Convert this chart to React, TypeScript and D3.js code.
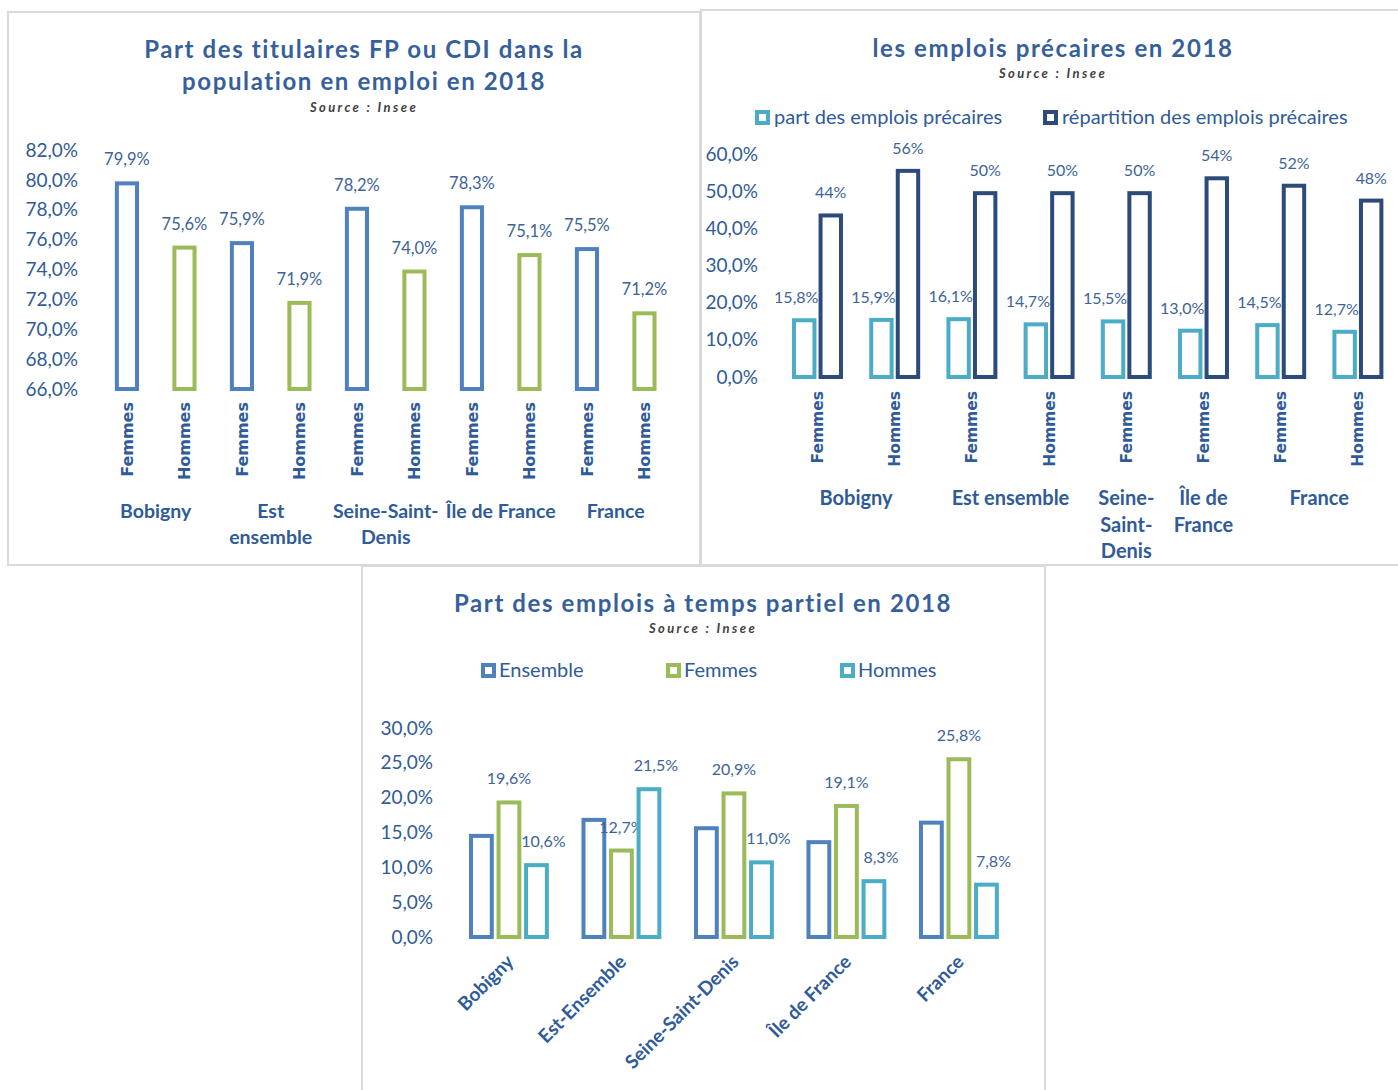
import React from 'react';
import * as d3 from 'd3';

// --- chart 1 : titulaires FP ou CDI
const places1 = ['Bobigny', 'Est ensemble', 'Seine-Saint-Denis', 'Île de France', 'France'];
const placeLines1 = [['Bobigny'], ['Est', 'ensemble'], ['Seine-Saint-', 'Denis'], ['Île de France'], ['France']];
const sexes = ['Femmes', 'Hommes'];
const titFemmes = [79.9, 75.9, 78.2, 78.3, 75.5];
const titHommes = [75.6, 71.9, 74.0, 75.1, 71.2];
const ticks1 = [66, 68, 70, 72, 74, 76, 78, 80, 82];

// --- chart 2 : emplois précaires
const catLabels2 = ['Femmes', 'Hommes', 'Femmes', 'Hommes', 'Femmes', 'Femmes', 'Femmes', 'Hommes'];
const partPrecaires = [15.8, 15.9, 16.1, 14.7, 15.5, 13.0, 14.5, 12.7];
const repartPrecaires = [44, 56, 50, 50, 50, 54, 52, 48];
const groups2 = [
  { lines: ['Bobigny'], from: 0, to: 1 },
  { lines: ['Est ensemble'], from: 2, to: 3 },
  { lines: ['Seine-', 'Saint-', 'Denis'], from: 4, to: 4 },
  { lines: ['Île de', 'France'], from: 5, to: 5 },
  { lines: ['France'], from: 6, to: 7 },
];
const series2 = ['part des emplois précaires', 'répartition des emplois précaires'];
const ticks2 = [0, 10, 20, 30, 40, 50, 60];

// --- chart 3 : temps partiel
const places3 = ['Bobigny', 'Est-Ensemble', 'Seine-Saint-Denis', 'Île de France', 'France'];
const series3 = ['Ensemble', 'Femmes', 'Hommes'];
const tpEnsemble = [14.8, 17.1, 15.9, 13.9, 16.7];
const tpFemmes = [19.6, 12.7, 20.9, 19.1, 25.8];
const tpHommes = [10.6, 21.5, 11.0, 8.3, 7.8];
const ticks3 = [0, 5, 10, 15, 20, 25, 30];

const BLUE = '#4f81bd';
const GREEN = '#9bbb59';
const CYAN = '#4bacc6';
const NAVY = '#2c4b7a';
const TXT = '#2f5b98';
const LBL = '#3d6397';
const TITLE = '#36609a';
const FONT = 'Lato, "Open Sans", sans-serif';

const fr = d3.formatLocale({ decimal: ',', thousands: ' ', grouping: [3], currency: ['', '€'] });
const pct1 = (v: number) => fr.format('.1f')(v) + '%';
const pct0 = (v: number) => fr.format('.0f')(v) + '%';

const SW = 4;

function OutlineBar({ x, w, y0, y1, color }: { x: number; w: number; y0: number; y1: number; color: string }) {
  return (
    <rect x={x + SW / 2} y={y1 + SW / 2} width={w - SW} height={Math.max(0, y0 - y1 - SW / 2)}
      fill="#fff" stroke={color} strokeWidth={SW} />
  );
}

function LegendMark({ x, y, color }: { x: number; y: number; color: string }) {
  return <rect x={x + 2} y={y + 2} width={11} height={11} fill="#fff" stroke={color} strokeWidth={4} />;
}

function Title({ x, y, lines }: { x: number; y: number; lines: string[] }) {
  return (
    <text textAnchor="middle" fill={TITLE} fontSize={24} fontWeight="bold" letterSpacing={1.6} fontFamily={FONT}>
      {lines.map((l, i) => <tspan key={i} x={x} y={y + i * 32}>{l}</tspan>)}
    </text>
  );
}

function Source({ x, y }: { x: number; y: number }) {
  return (
    <text x={x} y={y} textAnchor="middle" fill="#404040" fontSize={13} fontWeight="bold" fontStyle="italic" letterSpacing={2.4} fontFamily={FONT}>Source : Insee</text>
  );
}

function Chart1() {
  const y = d3.scaleLinear().domain([66, 82]).range([389, 150]);
  const cats = places1.flatMap((p, i) => sexes.map((s) => ({ p, s, i, v: s === 'Femmes' ? titFemmes[i] : titHommes[i] })));
  const x = d3.scaleBand<number>().domain(d3.range(cats.length)).range([98.2, 673.2]).paddingInner(0.58).paddingOuter(0.29);
  const bw = x.bandwidth();
  return (
    <g>
      <Title x={364} y={58} lines={['Part des titulaires FP ou CDI dans la', 'population en emploi en 2018']} />
      <Source x={364} y={112} />
      {ticks1.map((t) => (
        <text key={t} x={78} y={y(t)} dy="0.35em" textAnchor="end" fill={TXT} fontSize={19} fontFamily={FONT}>{pct1(t)}</text>
      ))}
      {cats.map((c, k) => {
        const cx = (x(k) as number) + bw / 2;
        const color = c.s === 'Femmes' ? BLUE : GREEN;
        return (
          <g key={k}>
            <OutlineBar x={x(k) as number} w={bw} y0={y(66)} y1={y(c.v)} color={color} />
            <text x={cx} y={y(c.v) - 16} textAnchor="middle" fill={LBL} fontSize={16.5} fontFamily={FONT}>{pct1(c.v)}</text>
            <text transform={`translate(${cx},402) rotate(-90)`} dy="0.36em" textAnchor="end" fill={TXT} fontSize={16} fontWeight="bold" fontFamily="DejaVu Sans, sans-serif">{c.s}</text>
          </g>
        );
      })}
      {placeLines1.map((lines, i) => {
        const cx = ((x(2 * i) as number) + (x(2 * i + 1) as number) + bw) / 2;
        return (
          <text key={i} textAnchor="middle" fill={TXT} fontSize={19.5} fontWeight="bold" fontFamily={FONT}>
            {lines.map((l, j) => <tspan key={j} x={cx} y={518 + j * 26}>{l}</tspan>)}
          </text>
        );
      })}
    </g>
  );
}

function Chart2() {
  const y = d3.scaleLinear().domain([0, 60]).range([377, 154]);
  const x = d3.scaleBand<number>().domain(d3.range(catLabels2.length)).range([778.9, 1396.5]).paddingInner(0.34).paddingOuter(0.17);
  const xi = d3.scaleBand<number>().domain([0, 1]).range([0, x.bandwidth()]).paddingInner(0.08);
  const bw = xi.bandwidth();
  const legendX = [755, 1043];
  return (
    <g>
      <Title x={1053} y={57} lines={['les emplois précaires en 2018']} />
      <Source x={1053} y={78} />
      {series2.map((s, i) => (
        <g key={s}>
          <LegendMark x={legendX[i]} y={110} color={i === 0 ? CYAN : NAVY} />
          <text x={legendX[i] + 19} y={124} fill={TXT} fontSize={20} fontFamily={FONT}>{s}</text>
        </g>
      ))}
      {ticks2.map((t) => (
        <text key={t} x={758} y={y(t)} dy="0.35em" textAnchor="end" fill={TXT} fontSize={19} fontFamily={FONT}>{pct1(t)}</text>
      ))}
      {catLabels2.map((lab, k) => {
        const x0 = x(k) as number;
        const vals = [partPrecaires[k], repartPrecaires[k]];
        const cx = x0 + x.bandwidth() / 2;
        return (
          <g key={k}>
            {vals.map((v, j) => {
              const bx = x0 + (xi(j) as number);
              return (
                <g key={j}>
                  <OutlineBar x={bx} w={bw} y0={y(0)} y1={y(v)} color={j === 0 ? CYAN : NAVY} />
                  <text x={bx + bw / 2 - (j === 0 ? 8 : 0)} y={y(v) - 15} textAnchor="middle" fill={LBL} fontSize={16} fontFamily={FONT}>
                    {j === 0 ? pct1(v) : pct0(v)}
                  </text>
                </g>
              );
            })}
            <text transform={`translate(${cx},391) rotate(-90)`} dy="0.36em" textAnchor="end" fill={TXT} fontSize={15.5} fontWeight="bold" fontFamily="DejaVu Sans, sans-serif">{lab}</text>
          </g>
        );
      })}
      {groups2.map((g, i) => {
        const cx = ((x(g.from) as number) + (x(g.to) as number) + x.bandwidth()) / 2;
        return (
          <text key={i} textAnchor="middle" fill={TXT} fontSize={20} fontWeight="bold" fontFamily={FONT}>
            {g.lines.map((l, j) => <tspan key={j} x={cx} y={505 + j * 26.5}>{l}</tspan>)}
          </text>
        );
      })}
    </g>
  );
}

function Chart3() {
  const y = d3.scaleLinear().domain([0, 30]).range([937, 728]);
  const x = d3.scaleBand<number>().domain(d3.range(places3.length)).range([435.25, 1032.6]).paddingInner(0.29).paddingOuter(0.3);
  const xi = d3.scaleBand<number>().domain([0, 1, 2]).range([0, x.bandwidth()]).paddingInner(0.1);
  const bw = xi.bandwidth();
  const colors = [BLUE, GREEN, CYAN];
  const legendX = [481, 666, 840];
  return (
    <g>
      <Title x={703} y={612} lines={['Part des emplois à temps partiel en 2018']} />
      <Source x={703} y={633} />
      {series3.map((s, i) => (
        <g key={s}>
          <LegendMark x={legendX[i]} y={663} color={colors[i]} />
          <text x={legendX[i] + 18} y={677} fill={TXT} fontSize={20} fontFamily={FONT}>{s}</text>
        </g>
      ))}
      {ticks3.map((t) => (
        <text key={t} x={433} y={y(t)} dy="0.35em" textAnchor="end" fill={TXT} fontSize={19} fontFamily={FONT}>{pct1(t)}</text>
      ))}
      {places3.map((p, k) => {
        const x0 = x(k) as number;
        const vals = [tpEnsemble[k], tpFemmes[k], tpHommes[k]];
        const cx = x0 + x.bandwidth() / 2;
        return (
          <g key={k}>
            {vals.map((v, j) => {
              const bx = x0 + (xi(j) as number);
              return (
                <g key={j}>
                  <OutlineBar x={bx} w={bw} y0={y(0)} y1={y(v)} color={colors[j]} />
                  {j > 0 && (
                    <text x={bx + bw / 2 + (j === 2 ? 7 : 0)} y={y(v) - 16} textAnchor="middle" fill={LBL} fontSize={16} fontFamily={FONT}>{pct1(v)}</text>
                  )}
                </g>
              );
            })}
            <text transform={`translate(${cx + 6},963) rotate(-45)`} textAnchor="end" fill={TXT} fontSize={19} fontWeight="bold" fontFamily={FONT}>{p}</text>
          </g>
        );
      })}
    </g>
  );
}

export default function App() {
  return (
    <svg width={1398} height={1090} style={{ position: 'absolute', left: 0, top: 0, background: '#fff' }}>
      <rect x={0} y={0} width={1398} height={1090} fill="#fff" />
      <rect x={8} y={12} width={692} height={553} fill="#fff" stroke="#d9d9d9" strokeWidth={2} />
      <rect x={701} y={10} width={700} height={555} fill="#fff" stroke="#d9d9d9" strokeWidth={2} />
      <rect x={362} y={566} width={683} height={530} fill="#fff" stroke="#d9d9d9" strokeWidth={2} />
      <Chart1 />
      <Chart2 />
      <Chart3 />
    </svg>
  );
}
